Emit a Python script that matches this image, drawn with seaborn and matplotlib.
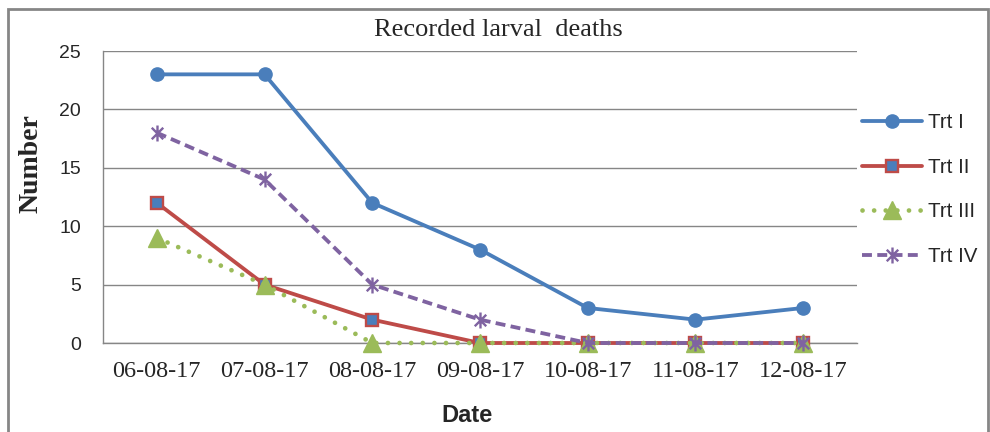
import numpy as np
import pandas as pd
import matplotlib
matplotlib.use("Agg")
import matplotlib.pyplot as plt
from matplotlib.path import Path
from matplotlib.lines import Line2D
import seaborn as sns

dates = ["06-08-17", "07-08-17", "08-08-17", "09-08-17", "10-08-17", "11-08-17", "12-08-17"]
trt1 = [23, 23, 12, 8, 3, 2, 3]
trt2 = [12, 5, 2, 0, 0, 0, 0]
trt3 = [9, 5, 0, 0, 0, 0, 0]
trt4 = [18, 14, 5, 2, 0, 0, 0]
series_names = ["Trt I", "Trt II", "Trt III", "Trt IV"]
yticks = [0, 5, 10, 15, 20, 25]

sns.set_theme(style="white")
plt.rcParams["font.family"] = ["Liberation Sans", "DejaVu Sans"]

fig = plt.figure(figsize=(9.9, 4.32), dpi=100)
ax = fig.add_axes([103/990, 1-343/432, (857-103)/990, (343-51)/432])

star = Path([(0, -1), (0, 1), (-0.72, -0.72), (0.72, 0.72), (-0.72, 0.72), (0.72, -0.72)],
            [Path.MOVETO, Path.LINETO, Path.MOVETO, Path.LINETO, Path.MOVETO, Path.LINETO])

blue = "#4A7EBB"
red = "#BE4B48"
green = "#9BBB59"
purple = "#7F63A1"

styles = [
    dict(color=blue, lw=2.75, ls="-", marker="o", ms=9.5, mfc=blue, mec=blue),
    dict(color=red, lw=2.75, ls="-", marker="s", ms=8.5, mfc=blue, mec=red, mew=1.7),
    dict(color=green, lw=3.4, ls=(0, (0.01, 2.45)), marker="^", ms=13, mfc=green, mec=green,
         dash_capstyle="round"),
    dict(color=purple, lw=2.75, ls=(0, (2.6, 1.4)), marker=star, ms=11.5, mfc="none", mec=purple, mew=1.7),
]

handles = []
for name, vals, st in zip(series_names, [trt1, trt2, trt3, trt4], styles):
    df = pd.DataFrame({"Date": dates, "Number": vals})
    st2 = dict(st)
    sns.lineplot(data=df, x="Date", y="Number", ax=ax, color=st2.pop("color"),
                 linewidth=st2.pop("lw"), linestyle=st2.pop("ls"), marker=st2.pop("marker"),
                 markersize=st2.pop("ms"), markerfacecolor=st2.pop("mfc"),
                 markeredgecolor=st2.pop("mec"), markeredgewidth=st2.pop("mew", 1),
                 clip_on=False, zorder=3, **st2)
    extra = {"dash_capstyle": st["dash_capstyle"]} if "dash_capstyle" in st else {}
    handles.append(Line2D([], [], color=st["color"], lw=st["lw"], ls=st["ls"], marker=st["marker"],
                          ms=st["ms"], mfc=st["mfc"], mec=st["mec"], mew=st.get("mew", 1), **extra))

ax.set_xlim(-0.5, len(dates) - 0.5)
ax.set_ylim(0, 25)
ax.set_yticks(yticks)
ax.set_xticks(range(len(dates)))
ax.set_xticklabels(dates, fontfamily="Liberation Serif", fontsize=17.5)
ax.set_xticks(np.arange(-0.5, len(dates)), minor=True)
ax.tick_params(axis="x", which="major", length=0, pad=13)
ax.tick_params(axis="x", which="minor", length=6, color="#868686", width=1, direction="out")
ax.tick_params(axis="y", length=6, color="#868686", width=1, direction="out", labelsize=14, pad=10)
ax.yaxis.grid(True, color="#868686", lw=1)
ax.set_axisbelow(True)
for s in ["top", "right"]:
    ax.spines[s].set_visible(False)
for s in ["left", "bottom"]:
    ax.spines[s].set_color("#868686")
    ax.spines[s].set_linewidth(1)
ax.set_xlabel("")
ax.set_ylabel("")

fig.text(31/990, 1-164/432, "Number", ha="center", va="center", rotation=90,
         fontfamily="Liberation Serif", fontweight="bold", fontsize=20)
fig.text(467/990, 1-416/432, "Date", ha="center", va="center", fontsize=17, fontweight="bold")
fig.text(498/990, 1-30/432, "Recorded larval  deaths", ha="center", va="center",
         fontfamily="Liberation Serif", fontsize=19)

leg = fig.legend(handles, series_names, loc="upper left", bbox_to_anchor=(862/990, 1-113/432),
                 frameon=False, fontsize=14.8, handlelength=2.9, handletextpad=0.3,
                 labelspacing=1.25, borderaxespad=0, borderpad=0)

fig.patches.append(plt.Rectangle((8/990, -0.05), 980/990, 1.05 - 9/432, transform=fig.transFigure,
                                 fill=False, edgecolor="#868686", lw=2))

fig.savefig("out.png", dpi=100)
